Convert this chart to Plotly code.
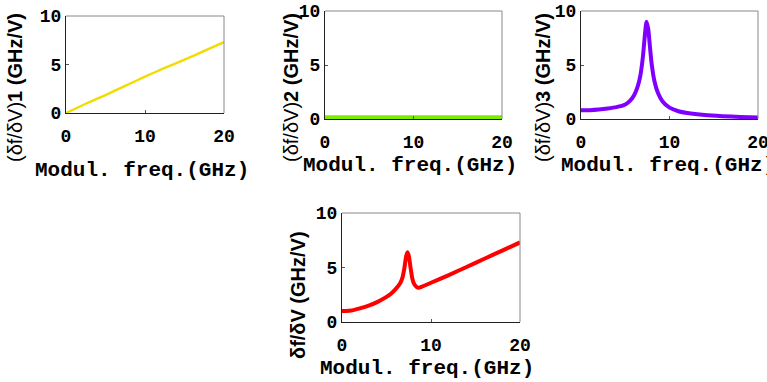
import plotly.graph_objects as go

W, H = 767, 382

# ---- data ----
x1 = [0, 2.5, 5, 7.5, 10, 12.5, 15, 17.5, 20]
y1 = [0.0, 0.95, 1.85, 2.8, 3.75, 4.65, 5.5, 6.4, 7.3]

x2 = [0, 5, 10, 15, 20]
y2 = [0.15, 0.15, 0.15, 0.15, 0.15]

x3 = [0, 1, 2, 3, 4, 5, 5.5, 6, 6.4, 6.7, 7.0, 7.2, 7.4, 7.6, 7.8, 8.0, 8.3, 8.7, 9.2,
      10, 11, 12, 14, 16, 18, 20]
y3 = [0.8, 0.82, 0.88, 0.97, 1.1, 1.35, 1.65, 2.2, 3.0, 4.0, 5.8, 7.6, 9.0, 8.3, 6.6,
      5.0, 3.5, 2.4, 1.65, 1.05, 0.72, 0.55, 0.36, 0.26, 0.19, 0.14]

x4 = [0, 1, 2, 3, 4, 5, 5.5, 6, 6.5, 6.8, 7.0, 7.2, 7.35, 7.5, 7.7, 7.9, 8.1, 8.4,
      8.6, 9, 10, 12, 14, 16, 18, 20]
y4 = [1.0, 1.05, 1.25, 1.5, 1.85, 2.3, 2.6, 3.0, 3.5, 4.1, 4.9, 6.0, 6.4, 6.1, 5.0,
      4.0, 3.5, 3.2, 3.15, 3.25, 3.6, 4.3, 5.05, 5.8, 6.55, 7.3]

x_ticks = [0, 10, 20]
y_ticks = [0, 5, 10]
x_title = "Modul. freq.(GHz)"
y_titles = ["(δf/δV)<b>1 (GHz/V)</b>", "(δf/δV)<b>2 (GHz/V)</b>",
            "(δf/δV)<b>3 (GHz/V)</b>", "<b>δf/δV (GHz/V)</b>"]
colors = ["#F2DC00", "#7CEB00", "#8000FF", "#FF0000"]
widths = [2.4, 4.5, 4, 4]

# panel boxes in pixels: (left, right, top, bottom)
boxes = [(66, 224, 16, 113), (325, 502, 11, 119), (581, 758, 11, 119), (342, 520, 213, 322)]
xtitle_pos = [(142, 170), (410, 165), (668, 165), (427, 368)]
ytitle_pos = [(15, 88), (291, 88), (543, 88), (298, 295)]

series = [(x1, y1), (x2, y2), (x3, y3), (x4, y4)]

fig = go.Figure()
tickfont = dict(family="Liberation Mono", size=18, color="black", weight="bold")
annotations = []
shapes = []
for i, ((xs, ys), (l, r, t, b)) in enumerate(zip(series, boxes)):
    n = i + 1
    xa = "x" if n == 1 else f"x{n}"
    ya = "y" if n == 1 else f"y{n}"
    fig.add_trace(go.Scatter(x=xs, y=ys, mode="lines", xaxis=xa, yaxis=ya,
                             line=dict(color=colors[i], width=widths[i], shape="spline", smoothing=0.6),
                             showlegend=False, hoverinfo="skip"))
    common = dict(showgrid=False, zeroline=False, showline=True, linecolor="#222",
                  linewidth=1, ticks="inside", ticklen=3, tickcolor="#555",
                  tickfont=tickfont, fixedrange=True, automargin=False,
                  ticklabeloverflow="allow")
    fig.layout[f"xaxis{'' if n == 1 else n}"] = dict(
        domain=[l / W, r / W], range=[0, 20], tickvals=x_ticks,
        ticklabelstandoff=6, anchor=ya, **common)
    fig.layout[f"yaxis{'' if n == 1 else n}"] = dict(
        domain=[1 - b / H, 1 - t / H], range=[0, 10], tickvals=y_ticks,
        ticklabelstandoff=0, anchor=xa, **common)
    # gray mirror lines (top and right)
    shapes.append(dict(type="line", xref=f"{xa} domain", yref=f"{ya} domain",
                       x0=0, x1=1, y0=1, y1=1, line=dict(color="#888", width=1)))
    shapes.append(dict(type="line", xref=f"{xa} domain", yref=f"{ya} domain",
                       x0=1, x1=1, y0=0, y1=1, line=dict(color="#888", width=1)))
    cx, cy = xtitle_pos[i]
    annotations.append(dict(text=f"<b>{x_title}</b>", x=cx / W, y=1 - cy / H,
                            xref="paper", yref="paper", showarrow=False,
                            xanchor="center", yanchor="middle",
                            font=dict(family="Liberation Mono", size=21, color="black")))
    cx, cy = ytitle_pos[i]
    annotations.append(dict(text=y_titles[i], x=cx / W, y=1 - cy / H,
                            xref="paper", yref="paper", showarrow=False, textangle=-90,
                            xanchor="center", yanchor="middle",
                            font=dict(family="Liberation Sans", size=20, color="black")))

fig.update_layout(width=W, height=H, margin=dict(l=0, r=0, t=0, b=0, pad=0),
                  paper_bgcolor="white", plot_bgcolor="white", hovermode=False,
                  annotations=annotations, shapes=shapes)
fig.write_html("out.html", config={"displayModeBar": False, "staticPlot": True},
               post_script="document.body.style.margin='0';")
